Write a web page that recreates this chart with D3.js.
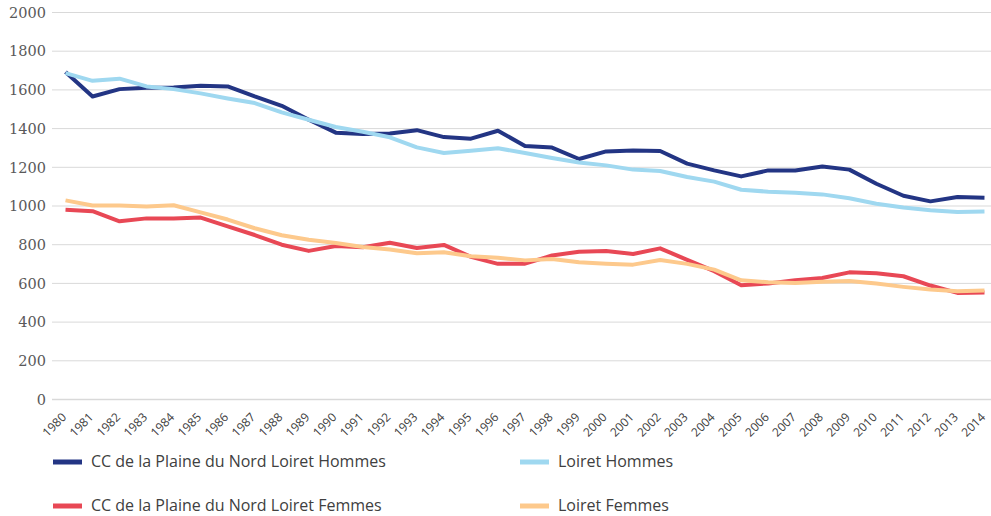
<!DOCTYPE html>
<html><head><meta charset="utf-8">
<script src="https://cdn.jsdelivr.net/npm/d3@7"></script>
<style>body{margin:0;background:#fff}svg{display:block}</style>
</head><body>
<svg id="c" width="991" height="516"></svg>
<script>
const years = d3.range(1980, 2015).map(String);
const yTicks = [0,200,400,600,800,1000,1200,1400,1600,1800,2000];
const ccHommes = [1692,1566,1604,1611,1613,1621,1618,1566,1518,1446,1379,1372,1375,1392,1356,1348,1389,1310,1302,1243,1282,1287,1284,1219,1184,1153,1184,1184,1204,1188,1115,1053,1024,1046,1043];
const loiretHommes = [1687,1647,1658,1618,1604,1582,1556,1532,1484,1446,1408,1384,1355,1303,1274,1286,1298,1274,1248,1225,1210,1188,1181,1150,1126,1084,1074,1069,1060,1040,1012,992,978,969,972];
const ccFemmes = [981,973,921,936,936,940,895,850,800,768,793,787,810,783,799,737,701,702,744,764,768,752,781,722,663,590,600,616,628,657,652,637,589,551,553];
const loiretFemmes = [1029,1003,1002,998,1004,967,930,885,849,826,809,788,775,756,761,740,732,719,726,709,702,697,721,701,671,616,606,602,609,613,599,582,568,559,563];
const seriesNames = ["CC de la Plaine du Nord Loiret Hommes","Loiret Hommes","CC de la Plaine du Nord Loiret Femmes","Loiret Femmes"];
const seriesColors = ["#233584","#9fd8f0","#e84855","#fdc98c"];
const seriesData = [ccHommes, loiretHommes, ccFemmes, loiretFemmes];

const svg = d3.select("#c");
const x = d3.scalePoint().domain(years).range([52, 998]).padding(0.5);
const y = d3.scaleLinear().domain([0, 2000]).range([399.5, 12.5]);

// gridlines
svg.append("g").selectAll("line").data(yTicks).join("line")
  .attr("x1", 52).attr("x2", 998)
  .attr("y1", d => y(d)).attr("y2", d => y(d))
  .attr("stroke", "#d9d9d9").attr("stroke-width", d => d === 0 ? 1.5 : 1);

// y labels
svg.append("g").selectAll("text").data(yTicks).join("text")
  .attr("x", 46).attr("y", d => y(d)).attr("dy", "0.36em")
  .attr("text-anchor", "end")
  .style("font-family", "'DejaVu Serif', 'Liberation Serif', serif").attr("font-size", 14.5)
  .attr("fill", "#595959").text(d => d);

// x labels
svg.append("g").selectAll("text").data(years).join("text")
  .attr("transform", d => `translate(${x(d) + 1.5},${418}) rotate(-45)`)
  .attr("text-anchor", "end")
  .attr("font-family", "Open Sans").attr("font-size", 12)
  .attr("fill", "#404040").text(d => d);

// lines
const line = d3.line().x((d, i) => x(years[i])).y(d => y(d));
svg.append("g").selectAll("path").data(seriesData).join("path")
  .attr("d", d => line(d)).attr("fill", "none")
  .attr("stroke", (d, i) => seriesColors[i]).attr("stroke-width", 4)
  .attr("stroke-linejoin", "round").attr("stroke-linecap", "butt");

// legend
const legPos = [[53, 462], [520, 462], [53, 506], [520, 506]];
const lg = svg.append("g").selectAll("g").data(seriesNames).join("g")
  .attr("transform", (d, i) => `translate(${legPos[i][0]},${legPos[i][1]})`);
lg.append("line").attr("x1", 0).attr("x2", 29).attr("y1", 0).attr("y2", 0)
  .attr("stroke", (d, i) => seriesColors[i]).attr("stroke-width", 5);
lg.append("text").attr("x", 38).attr("dy", "0.33em")
  .attr("font-family", "Open Sans").attr("font-size", 16)
  .attr("fill", "#404040").text(d => d);
</script>
</body></html>
